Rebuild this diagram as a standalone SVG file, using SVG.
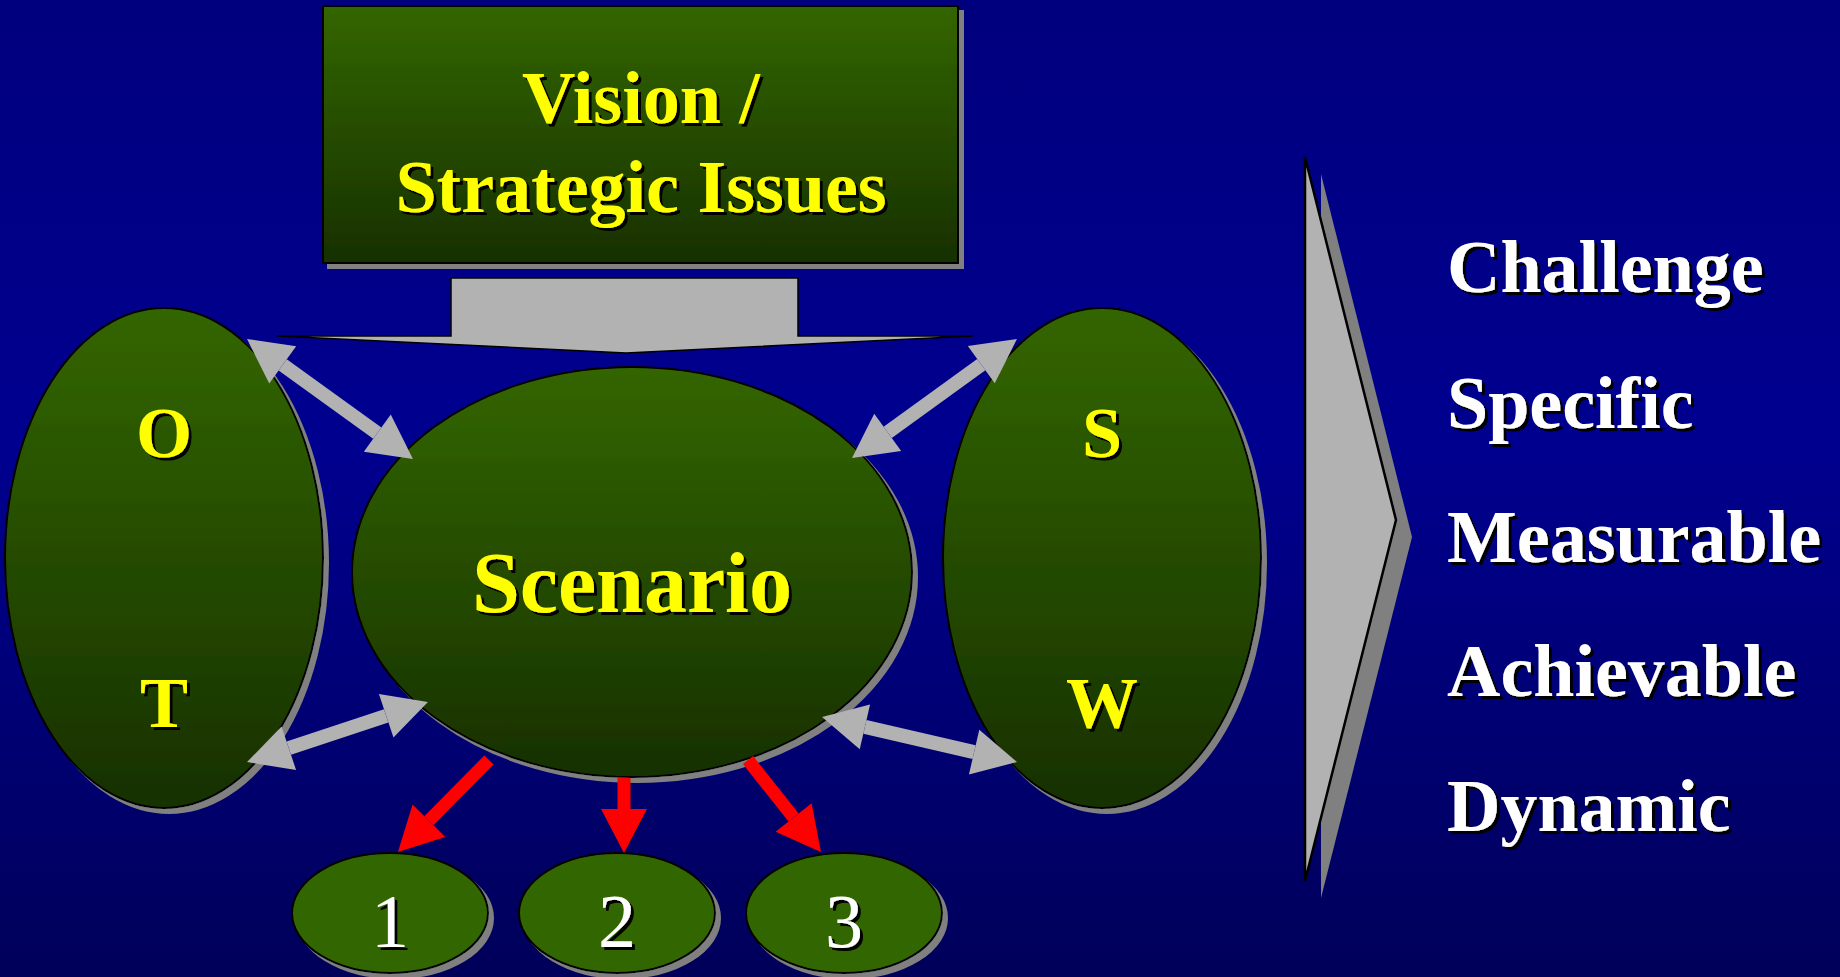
<svg xmlns="http://www.w3.org/2000/svg" width="1840" height="977" viewBox="0 0 1840 977">
<defs>
<linearGradient id="bg" x1="0" y1="0" x2="0" y2="1">
<stop offset="0" stop-color="#00007e"/>
<stop offset="0.45" stop-color="#000090"/>
<stop offset="1" stop-color="#00005a"/>
</linearGradient>
<linearGradient id="green" x1="0" y1="0" x2="0" y2="1">
<stop offset="0" stop-color="#336600"/>
<stop offset="1" stop-color="#173000"/>
</linearGradient>
<filter id="shadow" x="-10%" y="-10%" width="125%" height="125%">
<feDropShadow dx="5" dy="5" stdDeviation="0" flood-color="#808080" flood-opacity="1"/>
</filter>
<filter id="tshadow" x="-10%" y="-10%" width="125%" height="130%">
<feDropShadow dx="3" dy="3" stdDeviation="0" flood-color="#000000" flood-opacity="1"/>
</filter>
<marker id="grayHead" markerUnits="userSpaceOnUse" markerWidth="60" markerHeight="60" refX="0" refY="0" viewBox="0 -30 60 60" orient="auto-start-reverse" overflow="visible">
<path d="M0,-23 L44,0 L0,23 Z" fill="#b2b2b2"/>
</marker>
<marker id="redHead" markerUnits="userSpaceOnUse" markerWidth="60" markerHeight="60" refX="0" refY="0" viewBox="0 -30 60 60" orient="auto" overflow="visible">
<path d="M0,-23 L44,0 L0,23 Z" fill="#ff0000"/>
</marker>
</defs>
<style>
.node { fill: url(#green); stroke: #000; stroke-width: 2; filter: url(#shadow); }
.small { fill: #336600; stroke: #000; stroke-width: 2; filter: url(#shadow); }
.yl { font-family: "Liberation Serif", "Times New Roman", serif; font-weight: bold; fill: #ffff00; text-anchor: middle; filter: url(#tshadow); }
.wt { font-family: "Liberation Serif", "Times New Roman", serif; font-weight: bold; fill: #ffffff; font-size: 74px; filter: url(#tshadow); }
.num { font-family: "Liberation Serif", "Times New Roman", serif; fill: #ffffff; font-size: 76px; text-anchor: middle; filter: url(#tshadow); }
.gray { stroke: #b2b2b2; stroke-width: 14; fill: none; marker-start: url(#grayHead); marker-end: url(#grayHead); }
.red { stroke: #ff0000; stroke-width: 13; fill: none; marker-end: url(#redHead); }
</style>
<rect x="0" y="0" width="1840" height="977" fill="url(#bg)"/>

<g id="vision">
<rect x="323" y="6" width="635" height="257" class="node"/>
<text class="yl" x="641" y="123" font-size="74">Vision /</text>
<text class="yl" x="641" y="212" font-size="74">Strategic Issues</text>
</g>

<g id="vision-arrow">
<polygon points="451,278 798,278 798,336 973,336 626,353 277,336 451,336" fill="#b2b2b2" stroke="#000" stroke-width="1.5" stroke-linejoin="miter"/>
</g>

<g id="ot">
<ellipse cx="164" cy="558" rx="159" ry="250" class="node"/>
<text class="yl" x="164" y="457" font-size="72">O</text>
<text class="yl" x="164" y="727" font-size="72">T</text>
</g>

<g id="sw">
<ellipse cx="1102" cy="558" rx="159" ry="250" class="node"/>
<text class="yl" x="1102" y="457" font-size="72">S</text>
<text class="yl" x="1102" y="727" font-size="72">W</text>
</g>

<g id="scenario">
<ellipse cx="632" cy="572" rx="280" ry="205" class="node"/>
<text class="yl" x="632" y="612" font-size="86">Scenario</text>
</g>

<g id="option1">
<ellipse cx="390" cy="913" rx="98" ry="60" class="small"/>
<text class="num" x="390" y="947">1</text>
</g>
<g id="option2">
<ellipse cx="617" cy="913" rx="98" ry="60" class="small"/>
<text class="num" x="617" y="947">2</text>
</g>
<g id="option3">
<ellipse cx="844" cy="913" rx="98" ry="60" class="small"/>
<text class="num" x="844" y="947">3</text>
</g>

<g id="chevron">
<polygon points="1321,174 1412,537 1321,898" fill="#808080"/>
<polygon points="1305,157 1396,520 1305,881" fill="#b2b2b2" stroke="#000" stroke-width="2.5" stroke-linejoin="miter"/>
</g>

<g id="criteria">
<text class="wt" x="1447" y="292">Challenge</text>
<text class="wt" x="1447" y="428">Specific</text>
<text class="wt" x="1447" y="562">Measurable</text>
<text class="wt" x="1447" y="696">Achievable</text>
<text class="wt" x="1447" y="831">Dynamic</text>
</g>

<g id="connectors">
<line class="gray" x1="282.7" y1="364.8" x2="377.3" y2="433.2"/>
<line class="gray" x1="288.8" y1="748.2" x2="386.2" y2="715.8"/>
<line class="gray" x1="981.3" y1="364.7" x2="887.7" y2="432.3"/>
<line class="gray" x1="864.9" y1="726.9" x2="974.1" y2="752.1"/>
<line class="red" x1="489" y1="760" x2="428.9" y2="820.7"/>
<line class="red" x1="624" y1="778" x2="624" y2="809"/>
<line class="red" x1="748" y1="760" x2="793.6" y2="817.5"/>
</g>
</svg>
